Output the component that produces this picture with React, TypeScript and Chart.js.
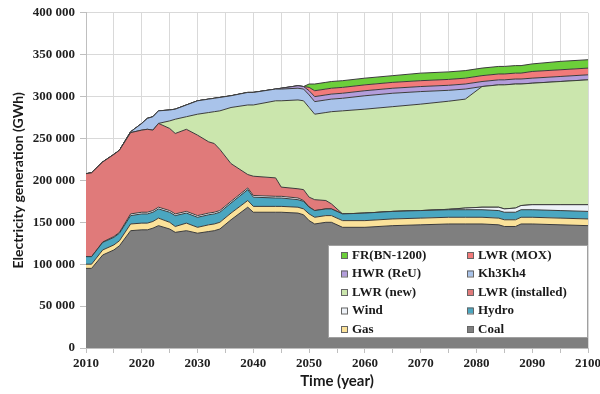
import React, { useEffect, useRef } from 'react';
import { Chart, registerables } from 'chart.js';

Chart.register(...registerables);

// Years of the data points
const YEARS = [2010, 2011, 2013, 2015, 2016, 2018, 2020, 2021, 2022, 2023, 2025, 2026, 2028, 2030, 2032, 2033, 2034, 2036, 2039, 2040, 2044, 2045, 2048, 2049, 2050, 2051, 2053, 2054, 2056, 2060, 2065, 2070, 2075, 2078, 2081, 2084, 2085, 2087, 2088, 2090, 2095, 2100];

// Generation by source (GWh), stacked from bottom to top
const COAL = [95000, 95000, 111000, 117000, 122000, 140000, 141000, 141000, 143000, 146000, 142000, 138000, 140000, 137000, 139000, 140000, 142000, 153000, 168000, 162000, 162000, 162000, 161000, 159000, 152000, 148000, 150000, 150000, 144000, 144000, 146000, 147000, 148000, 148000, 148000, 147000, 145000, 145000, 148000, 148000, 147000, 146000];
const GAS = [5000, 5000, 6000, 6000, 6000, 8000, 8000, 8000, 8000, 9000, 8000, 7000, 9000, 7000, 8000, 8000, 8000, 8000, 8000, 7000, 7000, 7000, 7000, 7000, 8000, 8000, 8000, 8000, 8000, 8000, 8000, 8000, 8000, 8000, 8000, 8000, 8000, 8000, 8000, 8000, 8000, 8000];
const HYDRO = [9000, 9000, 9000, 9000, 9000, 10000, 11000, 11000, 11000, 11000, 12000, 13000, 12000, 12000, 12000, 12000, 12000, 12000, 13000, 11000, 10000, 10000, 9000, 9000, 8000, 8000, 8000, 8000, 8000, 9000, 9000, 9000, 9000, 9000, 9000, 9000, 9000, 9000, 9000, 9000, 9000, 9000];
const WIND = [0, 0, 500, 1000, 1000, 2000, 2000, 2000, 2000, 2000, 2000, 2000, 2000, 2000, 2000, 2000, 2000, 2000, 2000, 2000, 2000, 2000, 2000, 1000, 500, 0, 0, 0, 0, 0, 0, 0, 500, 2000, 3000, 4000, 4000, 5000, 5000, 6000, 7000, 8000];
const LWR_INSTALLED = [99000, 100000, 95500, 98000, 98000, 97000, 98000, 99000, 96000, 100000, 98000, 96000, 98000, 96000, 85000, 82000, 73000, 45000, 16000, 23000, 22000, 11000, 11000, 13000, 11500, 13000, 10000, 6000, 0, 0, 0, 0, 0, 0, 0, 0, 0, 0, 0, 0, 0, 0];
const LWR_NEW = [0, 0, 0, 0, 0, 0, 0, 0, 0, 0, 9000, 17000, 15000, 25000, 35000, 38000, 46000, 67000, 83000, 85000, 92000, 103000, 106000, 106000, 107000, 102000, 105000, 110000, 123000, 124000, 125000, 127000, 129000, 130000, 144000, 146000, 148000, 148000, 145000, 145000, 147000, 149000];
const KH3KH4 = [0, 0, 0, 0, 0, 1000, 8000, 13000, 16000, 15000, 13000, 12000, 14000, 16000, 16000, 16000, 16000, 14000, 15000, 15000, 14000, 14000, 14000, 14000, 15000, 15000, 15000, 15000, 15000, 16000, 16000, 15000, 13000, 12000, 0, 0, 0, 0, 0, 0, 0, 0];
const HWR_REU = [0, 0, 0, 0, 0, 0, 0, 0, 0, 0, 0, 0, 0, 0, 0, 0, 0, 0, 0, 0, 0, 1000, 3000, 3000, 5000, 6000, 6000, 6000, 6000, 6000, 6000, 6000, 6000, 6000, 6000, 6000, 6000, 6000, 6000, 6000, 6000, 6000];
const LWR_MOX = [0, 0, 0, 0, 0, 0, 0, 0, 0, 0, 0, 0, 0, 0, 0, 0, 0, 0, 0, 0, 0, 0, 0, 0, 4000, 7000, 7000, 7000, 7000, 7000, 7000, 7000, 7000, 7000, 7000, 7000, 7000, 7000, 7000, 8000, 8000, 8000];
const FR_BN1200 = [0, 0, 0, 0, 0, 0, 0, 0, 0, 0, 0, 0, 0, 0, 0, 0, 0, 0, 0, 0, 0, 0, 0, 0, 4000, 8000, 8000, 8000, 8000, 8000, 8000, 9000, 9000, 9000, 9000, 9000, 9000, 9000, 9000, 9000, 10000, 10000];

const SERIES_NAMES = ['Coal', 'Gas', 'Hydro', 'Wind', 'LWR (installed)', 'LWR (new)', 'Kh3Kh4', 'HWR (ReU)', 'LWR (MOX)', 'FR(BN-1200)'];
const SERIES_DATA = [COAL, GAS, HYDRO, WIND, LWR_INSTALLED, LWR_NEW, KH3KH4, HWR_REU, LWR_MOX, FR_BN1200];
const SERIES_COLORS = ['#7f7f7f', '#fbe29a', '#4aa6c0', '#eef2f8', '#e07a7a', '#cbe6ad', '#a9c3ea', '#b39ddb', '#f27a7a', '#6ccf3a'];

// Legend layout: two columns, read row by row
const LEGEND_ORDER = ['FR(BN-1200)', 'LWR (MOX)', 'HWR (ReU)', 'Kh3Kh4', 'LWR (new)', 'LWR (installed)', 'Wind', 'Hydro', 'Gas', 'Coal'];

const X_TITLE = 'Time (year)';
const Y_TITLE = 'Electricity generation (GWh)';

const SERIF = "'Liberation Serif', 'Times New Roman', serif";
const SANS = "Lato, 'Liberation Sans', sans-serif";

const fmtThousands = (v: number) => String(v).replace(/\B(?=(\d{3})+(?!\d))/g, ' ');

const boxLegend = {
  id: 'boxLegend',
  afterDraw(chart: any) {
    const { ctx, chartArea } = chart;
    const w = 260;
    const h = 93;
    const x0 = chartArea.right - w;
    const y0 = chartArea.bottom - 10 - h;
    ctx.save();
    ctx.fillStyle = '#ffffff';
    ctx.fillRect(x0, y0, w, h);
    ctx.strokeStyle = '#a0a0a0';
    ctx.lineWidth = 1;
    ctx.strokeRect(x0 + 0.5, y0 + 0.5, w - 1, h - 1);
    ctx.font = `bold 13px ${SERIF}`;
    ctx.textBaseline = 'middle';
    ctx.textAlign = 'left';
    LEGEND_ORDER.forEach((name, i) => {
      const col = i % 2;
      const row = Math.floor(i / 2);
      const mx = x0 + (col ? 139 : 13);
      const cy = y0 + 10 + row * 18.5;
      const idx = SERIES_NAMES.indexOf(name);
      ctx.fillStyle = SERIES_COLORS[idx];
      ctx.fillRect(mx, cy - 3, 6, 6);
      ctx.strokeStyle = '#666666';
      ctx.strokeRect(mx + 0.5, cy - 2.5, 6, 6);
      ctx.fillStyle = '#1a1a1a';
      ctx.fillText(name, mx + 11, cy + 0.5);
    });
    ctx.restore();
  },
};

export default function App() {
  const canvasRef = useRef<HTMLCanvasElement | null>(null);

  useEffect(() => {
    document.body.style.margin = '0';
    const canvas = canvasRef.current;
    if (!canvas) return;
    const datasets = SERIES_NAMES.map((name, i) => ({
      label: name,
      data: SERIES_DATA[i],
      backgroundColor: SERIES_COLORS[i],
      borderColor: '#3c3c3c',
      borderWidth: 1,
      pointRadius: 0,
      tension: 0,
      fill: i === 0 ? 'origin' : '-1',
    }));

    const chart = new Chart(canvas, {
      type: 'line',
      data: { labels: YEARS, datasets: datasets as any },
      options: {
        animation: false,
        responsive: true,
        maintainAspectRatio: false,
        layout: { padding: { top: 12, right: 12, left: 0, bottom: 0 } },
        plugins: {
          legend: { display: false },
          tooltip: { enabled: false },
        },
        scales: {
          x: {
            type: 'linear',
            min: 2010,
            max: 2100,
            afterFit: (s: any) => {
              s.height = 46;
              s.paddingLeft = 0;
              s.paddingRight = 0;
            },
            ticks: {
              stepSize: 5,
              autoSkip: false,
              maxRotation: 0,
              padding: 3,
              color: '#1f1f1f',
              font: { family: SERIF, size: 13, weight: 'bold' },
              callback: (v: any) => (Number(v) % 10 === 0 ? String(v) : ''),
            },
            grid: { color: '#d9d9d9', tickLength: 5, tickColor: '#bfbfbf' },
            border: { color: '#bfbfbf' },
            title: {
              display: true,
              text: X_TITLE,
              color: '#1a1a1a',
              font: { family: SANS, size: 15, weight: 'bold' },
              padding: { top: 0, bottom: 4 },
            },
          },
          y: {
            stacked: true,
            min: 0,
            max: 400000,
            afterFit: (s: any) => {
              s.width = 86;
            },
            ticks: {
              stepSize: 50000,
              padding: 5,
              color: '#1f1f1f',
              font: { family: SERIF, size: 13, weight: 'bold' },
              callback: (v: any) => fmtThousands(Number(v)),
            },
            grid: { color: '#d9d9d9', tickLength: 6, tickColor: '#bfbfbf' },
            border: { color: '#bfbfbf' },
            title: {
              display: true,
              text: Y_TITLE,
              color: '#1a1a1a',
              font: { family: SANS, size: 14, weight: 'bold' },
              padding: { top: 10, bottom: 0 },
            },
          },
        },
      },
      plugins: [boxLegend],
    });

    return () => chart.destroy();
  }, []);

  return (
    <div style={{ position: 'relative', width: 600, height: 394 }}>
      <canvas ref={canvasRef} />
    </div>
  );
}
